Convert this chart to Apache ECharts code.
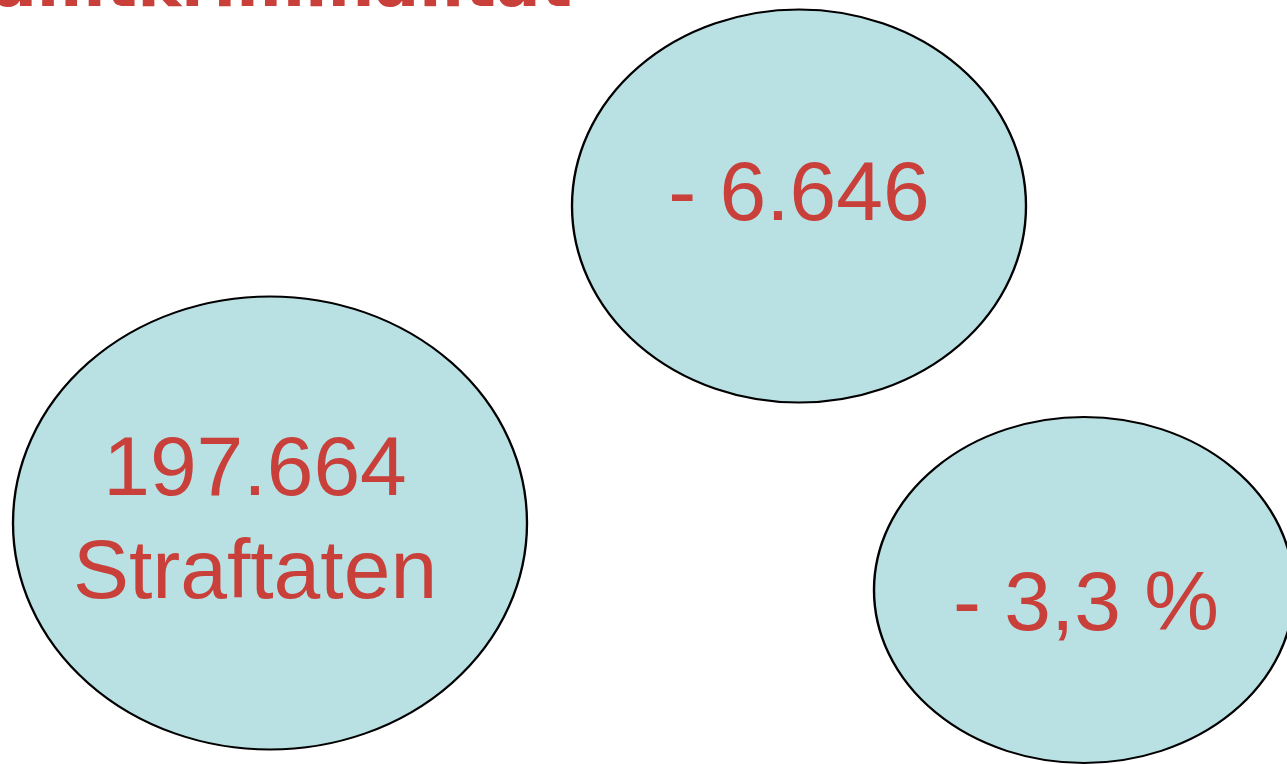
<!DOCTYPE html>
<html>
<head>
<meta charset="utf-8">
<script src="https://cdn.jsdelivr.net/npm/echarts@6/dist/echarts.min.js"></script>
<style>
  html, body { margin: 0; padding: 0; background: #fff; }
  #main { width: 1287px; height: 764px; }
</style>
</head>
<body>
<div id="main"></div>
<script>
// slide values
const titleText = 'Gesamtkriminalität';
const bubbleLabels = ['197.664\nStraftaten', '- 6.646', '- 3,3 %'];

// where the bubbles sit on the slide (pixel units of the hidden axes)
const bubbleCenterX = [270, 799, 1084];
const bubbleCenterY = [523, 206, 590];
const bubbleWidth = [514, 454, 420];
const bubbleHeight = [453, 393, 346];
const labelShift = [[-15, 0], [0, -9], [2, 17]];

let myChart = echarts.init(document.getElementById('main'));

let points = [];
for (let i = 0; i < bubbleLabels.length; i++) {
  points.push({
    value: [bubbleCenterX[i], bubbleCenterY[i]],
    name: bubbleLabels[i],
    symbolSize: [bubbleWidth[i], bubbleHeight[i]],
    label: { offset: labelShift[i] }
  });
}

myChart.setOption({
  animation: false,
  title: {
    text: titleText,
    right: 715,
    top: -44,
    padding: 0,
    textStyle: {
      fontFamily: 'DejaVu Sans',
      fontWeight: 'bold',
      fontSize: 66,
      color: '#c9403a'
    }
  },
  grid: { left: 0, right: 0, top: 0, bottom: 0 },
  xAxis: { type: 'value', min: 0, max: 1287, show: false },
  yAxis: { type: 'value', min: 0, max: 764, inverse: true, show: false },
  series: [
    {
      type: 'scatter',
      symbol: 'circle',
      data: points,
      itemStyle: {
        color: '#b9e0e3',
        borderColor: '#000',
        borderWidth: 2.2,
        opacity: 1
      },
      label: {
        show: true,
        position: 'inside',
        formatter: '{b}',
        fontFamily: 'Liberation Sans',
        fontSize: 84,
        lineHeight: 103,
        color: '#c9403a'
      },
      emphasis: { disabled: true }
    }
  ]
});
</script>
</body>
</html>
